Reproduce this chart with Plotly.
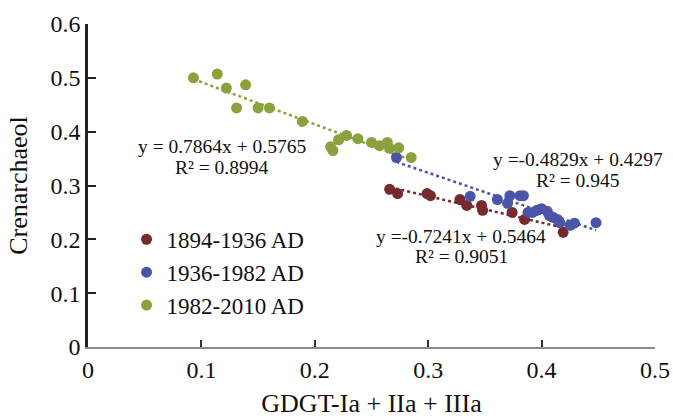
import numpy as np
import plotly.graph_objects as go

# ---- data ----
red_name = "1894-1936 AD"
red_x = [0.266, 0.273, 0.299, 0.302, 0.328, 0.334, 0.347, 0.348, 0.374, 0.385, 0.419]
red_y = [0.293, 0.285, 0.285, 0.281, 0.274, 0.263, 0.263, 0.254, 0.250, 0.237, 0.213]

blue_name = "1936-1982 AD"
blue_x = [0.272, 0.337, 0.361, 0.372, 0.381, 0.384, 0.370, 0.388, 0.392, 0.396,
          0.400, 0.405, 0.407, 0.410, 0.414, 0.416, 0.425, 0.429, 0.448]
blue_y = [0.352, 0.280, 0.274, 0.281, 0.281, 0.281, 0.267, 0.250, 0.250, 0.254,
          0.257, 0.252, 0.244, 0.241, 0.237, 0.231, 0.226, 0.230, 0.231]

green_name = "1982-2010 AD"
green_x = [0.093, 0.114, 0.122, 0.139, 0.131, 0.150, 0.160, 0.189, 0.214, 0.216,
           0.221, 0.228, 0.238, 0.250, 0.257, 0.264, 0.266, 0.274, 0.285]
green_y = [0.500, 0.507, 0.481, 0.487, 0.444, 0.444, 0.444, 0.419, 0.372, 0.365,
           0.385, 0.393, 0.387, 0.380, 0.374, 0.380, 0.369, 0.370, 0.352]

red_eq = ["y =-0.7241x + 0.5464", "R\u00b2 = 0.9051"]
blue_eq = ["y =-0.4829x + 0.4297", "R\u00b2 = 0.945"]
green_eq = ["y = 0.7864x + 0.5765", "R\u00b2 = 0.8994"]

x_ticks = [0, 0.1, 0.2, 0.3, 0.4, 0.5]
y_ticks = [0, 0.1, 0.2, 0.3, 0.4, 0.5, 0.6]

# ---- style ----
RED = "#772A2E"
BLUE = "#4A55A8"
GREEN = "#8BA13C"
FONT = "Liberation Serif"

fig = go.Figure()

def trend(xs, ys, color):
    xs = np.array(xs); ys = np.array(ys)
    m, b = np.polyfit(xs, ys, 1)
    lx = np.array([xs.min(), xs.max()])
    fig.add_trace(go.Scatter(x=lx, y=m * lx + b, mode="lines",
                             line=dict(color=color, width=2.5, dash="dot"),
                             showlegend=False, hoverinfo="skip"))

trend(green_x, green_y, GREEN)
trend(blue_x, blue_y, BLUE)
trend(red_x, red_y, RED)

for name, xs, ys, c in [(red_name, red_x, red_y, RED),
                        (blue_name, blue_x, blue_y, BLUE),
                        (green_name, green_x, green_y, GREEN)]:
    fig.add_trace(go.Scatter(x=xs, y=ys, mode="markers", name=name,
                             marker=dict(color=c, size=11)))

def eq(lines, x, y1, y2, fs=19.5):
    fig.add_annotation(x=x, y=y1, text=lines[0], showarrow=False,
                       xanchor="center", yanchor="middle",
                       font=dict(family=FONT, size=fs, color="#111"))
    fig.add_annotation(x=x, y=y2, text=lines[1], showarrow=False,
                       xanchor="center", yanchor="middle",
                       font=dict(family=FONT, size=fs, color="#111"))

eq(green_eq, 0.118, 0.372, 0.334)
eq(blue_eq, 0.432, 0.348, 0.310)
eq(red_eq, 0.329, 0.206, 0.169)

fig.update_layout(
    width=673, height=418,
    margin=dict(l=88, r=18, t=24, b=71),
    paper_bgcolor="white", plot_bgcolor="white",
    font=dict(family=FONT, size=24, color="#111"),
    showlegend=True,
    legend=dict(x=0.068, y=0.40, xanchor="left", yanchor="top",
                font=dict(family=FONT, size=23, color="#111"),
                bgcolor="rgba(0,0,0,0)", itemwidth=30, tracegroupgap=0),
    xaxis=dict(range=[0, 0.5], tickvals=x_ticks, ticktext=[f"{v:g}" for v in x_ticks],
               showgrid=False, zeroline=False, showline=True, automargin=False,
               linecolor="#8a8a8a", linewidth=1.5,
               ticks="inside", ticklen=7, tickwidth=2, tickcolor="#333",
               title=dict(text="GDGT-Ia + IIa + IIIa", font=dict(size=26), standoff=14)),
    yaxis=dict(range=[0, 0.6], tickvals=y_ticks, ticktext=[f"{v:g}" for v in y_ticks],
               showgrid=False, zeroline=False, showline=True, automargin=False,
               linecolor="#222", linewidth=2.5,
               ticks="inside", ticklen=8, tickwidth=2, tickcolor="#222",
               title=dict(text="Crenarchaeol", font=dict(size=26), standoff=16)),
)

fig.write_html("out.html", config={"displayModeBar": False},
               post_script="document.body.style.margin='0px';")
